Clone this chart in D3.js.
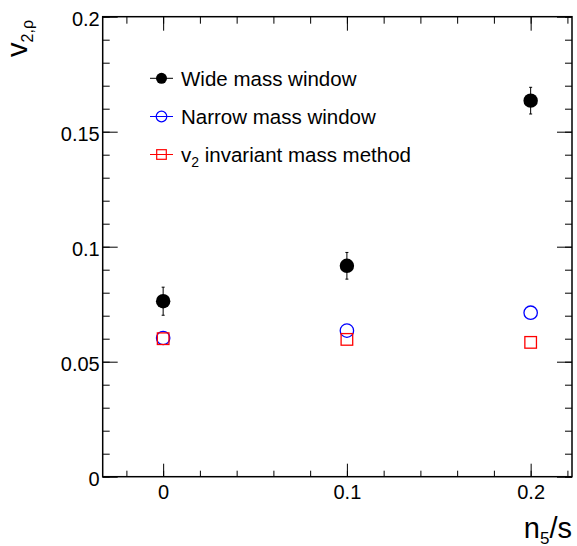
<!DOCTYPE html>
<html>
<head>
<meta charset="utf-8">
<script src="https://cdn.jsdelivr.net/npm/d3@7"></script>
<style>
  body { margin: 0; background: #fff; }
  text { font-family: "Liberation Sans", Arial, sans-serif; fill: #000; }
</style>
</head>
<body>
<div id="chart"></div>
<script>
// values
var xValues = [0, 0.1, 0.2];
var wideValues = [0.0763, 0.0917, 0.1635];
var wideErrors = [0.0061, 0.0058, 0.0058];
var narrowValues = [0.0603, 0.0635, 0.0713];
var invMassValues = [0.0600, 0.0597, 0.0584];

var xTicks = [0, 0.1, 0.2];
var yTicks = [0, 0.05, 0.1, 0.15, 0.2];
var legendLabels = ["Wide mass window", "Narrow mass window", "invariant mass method"];

var totalWidth = 577;
var totalHeight = 546;
var margin = { top: 16.7, right: 5, bottom: 69.3, left: 102.7 };
var width = totalWidth - margin.left - margin.right;
var height = totalHeight - margin.top - margin.bottom;

var svg = d3.select('#chart').append('svg')
    .attr('width', totalWidth)
    .attr('height', totalHeight);

var g = svg.append('g')
    .attr('transform', 'translate(' + margin.left + ',' + margin.top + ')');

var xScale = d3.scaleLinear().domain([-0.0329, 0.2225]).range([0, width]);
var yScale = d3.scaleLinear().domain([0, 0.2]).range([height, 0]);

function styleAxis(sel) {
    sel.selectAll('.domain').remove();
    sel.selectAll('line').attr('stroke', '#000').attr('stroke-width', 1);
    sel.selectAll('text').attr('font-size', 20).attr('fill', '#000')
        .attr('font-family', '"Liberation Sans", Arial, sans-serif');
}

// minor ticks
var xMinor = xScale.ticks(12);
var yMinor = yScale.ticks(20);

g.append('g').attr('transform', 'translate(0,' + height + ')')
    .call(d3.axisBottom(xScale).tickValues(xMinor).tickSize(-6).tickFormat(''))
    .call(styleAxis);
g.append('g')
    .call(d3.axisTop(xScale).tickValues(xMinor).tickSize(-7).tickFormat(''))
    .call(styleAxis);
g.append('g')
    .call(d3.axisLeft(yScale).tickValues(yMinor).tickSize(-7).tickFormat(''))
    .call(styleAxis);
g.append('g').attr('transform', 'translate(' + width + ',0)')
    .call(d3.axisRight(yScale).tickValues(yMinor).tickSize(-7).tickFormat(''))
    .call(styleAxis);

// major ticks
var xAxisGroup = g.append('g').attr('transform', 'translate(0,' + height + ')')
    .call(d3.axisBottom(xScale).tickValues(xTicks).tickSize(-13).tickPadding(8)
        .tickFormat(function(d) { return d === 0 ? '0' : d3.format('.1f')(d); }))
    .call(styleAxis);
g.append('g')
    .call(d3.axisTop(xScale).tickValues(xTicks).tickSize(-14).tickFormat(''))
    .call(styleAxis);
var yAxisGroup = g.append('g')
    .call(d3.axisLeft(yScale).tickValues(yTicks).tickSize(-15).tickPadding(3)
        .tickFormat(function(d) { return d === 0 ? '0' : String(+d.toFixed(2)); }))
    .call(styleAxis);
yAxisGroup.selectAll('text').attr('dy', '0.42em');
g.append('g').attr('transform', 'translate(' + width + ',0)')
    .call(d3.axisRight(yScale).tickValues(yTicks).tickSize(-15).tickFormat(''))
    .call(styleAxis);

// frame
g.append('rect')
    .attr('width', width).attr('height', height)
    .attr('fill', 'none').attr('stroke', '#000').attr('stroke-width', 1.5);

// axis titles
var yTitle = svg.append('text')
    .attr('transform', 'translate(27,20) rotate(-90)')
    .attr('text-anchor', 'end');
yTitle.append('tspan').attr('font-size', 29).text('v');
yTitle.append('tspan').attr('font-size', 16).attr('dy', 6).text('2,\u03c1');

var xTitle = svg.append('text')
    .attr('x', 572).attr('y', 538)
    .attr('text-anchor', 'end');
xTitle.append('tspan').attr('font-size', 29).text('n');
xTitle.append('tspan').attr('font-size', 17).attr('dy', 5.5).text('5');
xTitle.append('tspan').attr('font-size', 29).attr('dy', -5.5).text('/s');

// data
var wideData = xValues.map(function(x, i) { return { x: x, y: wideValues[i], e: wideErrors[i] }; });
var narrowData = xValues.map(function(x, i) { return { x: x, y: narrowValues[i] }; });
var invData = xValues.map(function(x, i) { return { x: x, y: invMassValues[i] }; });

var errG = g.append('g');
errG.selectAll('line.err')
    .data(wideData).enter().append('line')
    .attr('x1', d => xScale(d.x)).attr('x2', d => xScale(d.x))
    .attr('y1', d => yScale(d.y + d.e)).attr('y2', d => yScale(d.y - d.e))
    .attr('stroke', '#000').attr('stroke-width', 1);
[1, -1].forEach(function(s) {
    errG.selectAll(null)
        .data(wideData).enter().append('line')
        .attr('x1', d => xScale(d.x) - 1.5).attr('x2', d => xScale(d.x) + 1.5)
        .attr('y1', d => yScale(d.y + s * d.e)).attr('y2', d => yScale(d.y + s * d.e))
        .attr('stroke', '#000').attr('stroke-width', 1);
});

g.append('g').selectAll('circle')
    .data(wideData).enter().append('circle')
    .attr('cx', d => xScale(d.x)).attr('cy', d => yScale(d.y))
    .attr('r', 7.2).attr('fill', '#000');

g.append('g').selectAll('circle')
    .data(narrowData).enter().append('circle')
    .attr('cx', d => xScale(d.x)).attr('cy', d => yScale(d.y))
    .attr('r', 6.7).attr('fill', 'none').attr('stroke', '#0000ff').attr('stroke-width', 1.3);

g.append('g').selectAll('rect')
    .data(invData).enter().append('rect')
    .attr('x', d => xScale(d.x) - 5.8).attr('y', d => yScale(d.y) - 5.8)
    .attr('width', 11.6).attr('height', 11.6)
    .attr('fill', 'none').attr('stroke', '#ff0000').attr('stroke-width', 1.3);

// legend
var legendRows = [78.3, 116.5, 154.5];
var legendColors = ['#000', '#0000ff', '#ff0000'];
var legend = svg.append('g');
legendRows.forEach(function(ly, i) {
    legend.append('line')
        .attr('x1', 150).attr('x2', 173).attr('y1', ly).attr('y2', ly)
        .attr('stroke', legendColors[i]).attr('stroke-width', 1);
    var t = legend.append('text').attr('x', 181).attr('y', ly).attr('dy', '0.36em').attr('font-size', 20.5);
    if (i === 2) {
        t.append('tspan').text('v');
        t.append('tspan').attr('font-size', 14).attr('dy', 5).text('2');
        t.append('tspan').attr('dy', -5).text(' ' + legendLabels[i]);
    } else {
        t.text(legendLabels[i]);
    }
});
legend.append('circle').attr('cx', 161.5).attr('cy', legendRows[0]).attr('r', 5.5).attr('fill', '#000');
legend.append('circle').attr('cx', 161.5).attr('cy', legendRows[1]).attr('r', 5.3)
    .attr('fill', 'none').attr('stroke', '#0000ff').attr('stroke-width', 1.2);
legend.append('rect').attr('x', 161.5 - 4.8).attr('y', legendRows[2] - 4.8).attr('width', 9.6).attr('height', 9.6)
    .attr('fill', 'none').attr('stroke', '#ff0000').attr('stroke-width', 1.2);
</script>
</body>
</html>
